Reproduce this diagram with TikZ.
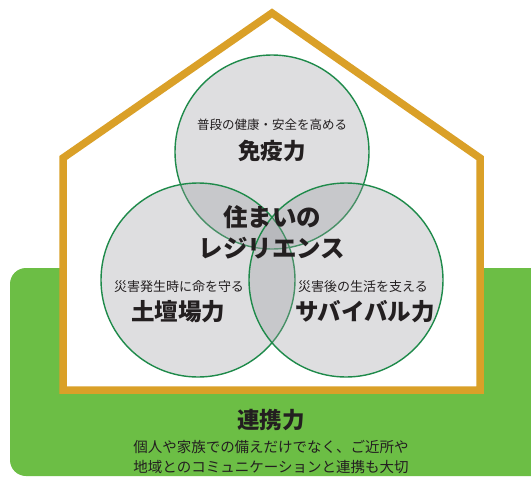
\documentclass[tikz,border=0pt]{standalone}
\usepackage{fontspec}
\newfontfamily\jp{Noto Sans CJK JP}
\begin{document}
\begin{tikzpicture}[x=1pt,y=-1pt,
  ring/.style={draw=ringgreen, line width=1.4pt, fill=venngray, fill opacity=0.33},
  small/.style={font=\jp\fontsize{12.5}{14}\selectfont, text=txt},
  big/.style={font=\jp\bfseries\fontsize{22.5}{26}\selectfont, text=txt},
  body/.style={font=\jp\fontsize{14.5}{20}\selectfont, text=txt, align=center}]
\definecolor{ringgreen}{HTML}{1E8A4A}
\definecolor{venngray}{RGB}{155,157,162}
\definecolor{housegold}{HTML}{DAA028}
\definecolor{leafgreen}{HTML}{6CBE45}
\definecolor{txt}{HTML}{231F20}
\useasboundingbox (0,0) rectangle (531,477);
\fill[white] (0,0) rectangle (531,477);
% green band
\fill[leafgreen, rounded corners=16pt] (10,268) rectangle (560,476);
% house
\fill[white] (63,158) -- (272,13) -- (480,158) -- (480,390) -- (63,390) -- cycle;
% circles
\node[ring, circle, minimum size=194pt, inner sep=0] (top) at (272,152) {};
\node[ring, circle, minimum size=194pt, inner sep=0] (left) at (198,280) {};
\node[ring, circle, minimum size=194pt, inner sep=0] (right) at (346,280) {};
\draw[housegold, line width=7.5pt, line join=miter] (63,158) -- (272,13) -- (480,158) -- (480,390) -- (63,390) -- cycle;
% texts
\node[small] (t1) at (272,125) {普段の健康・安全を高める};
\node[big] (t2) at (272,151) {免疫力};
\node[big, font=\jp\bfseries\fontsize{24.5}{28}\selectfont] (c1) at (272,217) {住まいの};
\node[big, font=\jp\bfseries\fontsize{24.5}{28}\selectfont] (c2) at (272,248) {レジリエンス};
\node[small, font=\jp\fontsize{13}{15}\selectfont] (l1) at (179,287) {災害発生時に命を守る};
\node[big, font=\jp\bfseries\fontsize{23.5}{27}\selectfont] (l2) at (178,312) {土壇場力};
\node[small, font=\jp\fontsize{13}{15}\selectfont] (r1) at (363,287) {災害後の生活を支える};
\node[big, font=\jp\bfseries\fontsize{23.5}{27}\selectfont] (r2) at (365,312) {サバイバル力};
\node[big] (g1) at (271,420) {連携力};
\node[body] (g2) at (271,457) {個人や家族での備えだけでなく、ご近所や\\地域とのコミュニケーションと連携も大切};
\end{tikzpicture}
\end{document}
